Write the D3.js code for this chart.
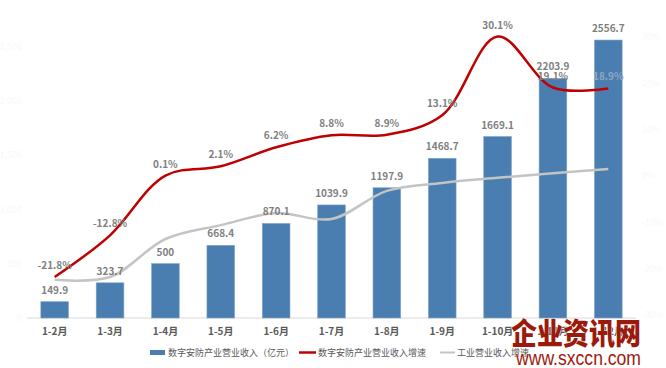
<!DOCTYPE html>
<html><head><meta charset="utf-8">
<script src="https://cdn.jsdelivr.net/npm/d3@7"></script>
<style>body{margin:0;background:#fff}svg{display:block}</style>
</head><body><svg id="c" width="666" height="368"></svg>
<script>
const categories = ["1-2月","1-3月","1-4月","1-5月","1-6月","1-7月","1-8月","1-9月","1-10月","1-11月","1-12月"];
const revenue = [149.9,323.7,500,668.4,870.1,1039.9,1197.9,1468.7,1669.1,2203.9,2556.7];
const growth = [-21.8,-12.8,0.1,2.1,6.2,8.8,8.9,13.1,30.1,19.1,18.9];
const industryGrowth = [-22.4,-21.8,-13.6,-10.6,-8.0,-9.3,-3.2,-1.5,-0.4,0.6,1.5];
const leftTicks = [0,500,1000,1500,2000,2500];
const rightTicks = [-30,-20,-10,0,10,20,30];
const legendLabels = ["数字安防产业营业收入（亿元）","数字安防产业营业收入增速","工业营业收入增速"];

const svg = d3.select("#c");
const font = "'Noto Sans CJK SC','Noto Sans',sans-serif";
const x = d3.scaleBand().domain(categories).range([27,636]).paddingInner(0.5).paddingOuter(0.25);
const yL = d3.scaleLinear().domain([0,2500]).range([318,46.2]);
const yR = d3.scaleLinear().domain([-30,30]).range([315,37]);
const cx = d => x(d) + x.bandwidth()/2;

// very faint axis labels
const lg = svg.append("g").attr("transform","translate(22,0)")
  .call(d3.axisLeft(yL).tickValues(leftTicks).tickSize(0).tickPadding(0));
lg.select(".domain").remove();
lg.selectAll("text").attr("fill","#f8f8f8").attr("font-size",9).attr("font-family",font);
const rg = svg.append("g").attr("transform","translate(642,0)")
  .call(d3.axisRight(yR).tickValues(rightTicks).tickSize(0).tickPadding(0).tickFormat(d=>d+"%"));
rg.select(".domain").remove();
rg.selectAll("text").attr("fill","#f8f8f8").attr("font-size",9).attr("font-family",font);

// baseline
svg.append("line").attr("x1",27).attr("x2",636).attr("y1",yL(0)).attr("y2",yL(0))
  .attr("stroke","#d9d9d9").attr("stroke-width",1);

// bars
svg.append("g").selectAll("rect").data(revenue).join("rect")
  .attr("x",(d,i)=>x(categories[i])).attr("width",x.bandwidth())
  .attr("y",d=>yL(d)).attr("height",d=>yL(0)-yL(d))
  .attr("fill","#4a7eb0").attr("stroke","#7ea6cc").attr("stroke-width",0.6);

// x axis labels
const xg = svg.append("g").attr("transform",`translate(0,${yL(0)})`)
  .call(d3.axisBottom(x).tickSize(0).tickPadding(10));
xg.select(".domain").remove();
xg.selectAll("text").attr("fill","#595959").attr("font-size",10).attr("font-weight","bold").attr("font-family",font);

// lines
const curve = d3.curveCatmullRom.alpha(0.5);
svg.append("path").datum(industryGrowth)
  .attr("d", d3.line().x((d,i)=>cx(categories[i])).y(d=>yR(d)).curve(curve))
  .attr("fill","none").attr("stroke","#c4c4c4").attr("stroke-width",2.5);
svg.append("path").datum(growth)
  .attr("d", d3.line().x((d,i)=>cx(categories[i])).y(d=>yR(d)).curve(curve))
  .attr("fill","none").attr("stroke","#c00000").attr("stroke-width",2.5);

// value labels
svg.append("g").selectAll("text").data(revenue).join("text")
  .attr("x",(d,i)=>cx(categories[i])).attr("y",d=>yL(d)-8)
  .attr("text-anchor","middle").attr("font-size",10).attr("font-weight","bold")
  .attr("font-family",font).attr("fill","#808080").text(d=>d);
svg.append("g").selectAll("text").data(growth).join("text")
  .attr("x",(d,i)=>cx(categories[i])).attr("y",d=>yR(d)-8)
  .attr("text-anchor","middle").attr("font-size",10).attr("font-weight","bold")
  .attr("font-family",font).attr("fill",(d,i)=>i===growth.length-1?"#8fa6c2":"#808080")
  .text(d=>d.toFixed(1)+"%");

// legend
const leg = svg.append("g").attr("font-family",font).attr("font-size",9).attr("fill","#595959");
leg.append("rect").attr("x",150).attr("y",350).attr("width",15).attr("height",5).attr("fill","#4a7eb0");
leg.append("text").attr("x",168).attr("y",356).text(legendLabels[0]);
leg.append("line").attr("x1",299).attr("x2",316).attr("y1",352.5).attr("y2",352.5).attr("stroke","#c00000").attr("stroke-width",2.5);
leg.append("text").attr("x",318).attr("y",356).text(legendLabels[1]);
leg.append("line").attr("x1",440).attr("x2",455).attr("y1",352.5).attr("y2",352.5).attr("stroke","#c4c4c4").attr("stroke-width",2);
leg.append("text").attr("x",457).attr("y",356).text(legendLabels[2]);

// watermark
svg.append("text").attr("x",511).attr("y",344).attr("textLength",130).attr("lengthAdjust","spacingAndGlyphs")
  .attr("font-family","'Noto Sans CJK SC',sans-serif").attr("font-weight",900).attr("font-size",30)
  .attr("fill","#9c1a0c").attr("stroke","#fff").attr("stroke-width",0.8).attr("paint-order","stroke")
  .text("企业资讯网");
svg.append("text").attr("x",516).attr("y",365).attr("textLength",125).attr("lengthAdjust","spacingAndGlyphs")
  .attr("font-family","'Liberation Sans Narrow','Liberation Sans',sans-serif").attr("font-size",21)
  .attr("fill","#9c1a0c").attr("stroke","#fff").attr("stroke-width",0.8).attr("paint-order","stroke")
  .text("www.sxccn.com");
</script></body></html>
